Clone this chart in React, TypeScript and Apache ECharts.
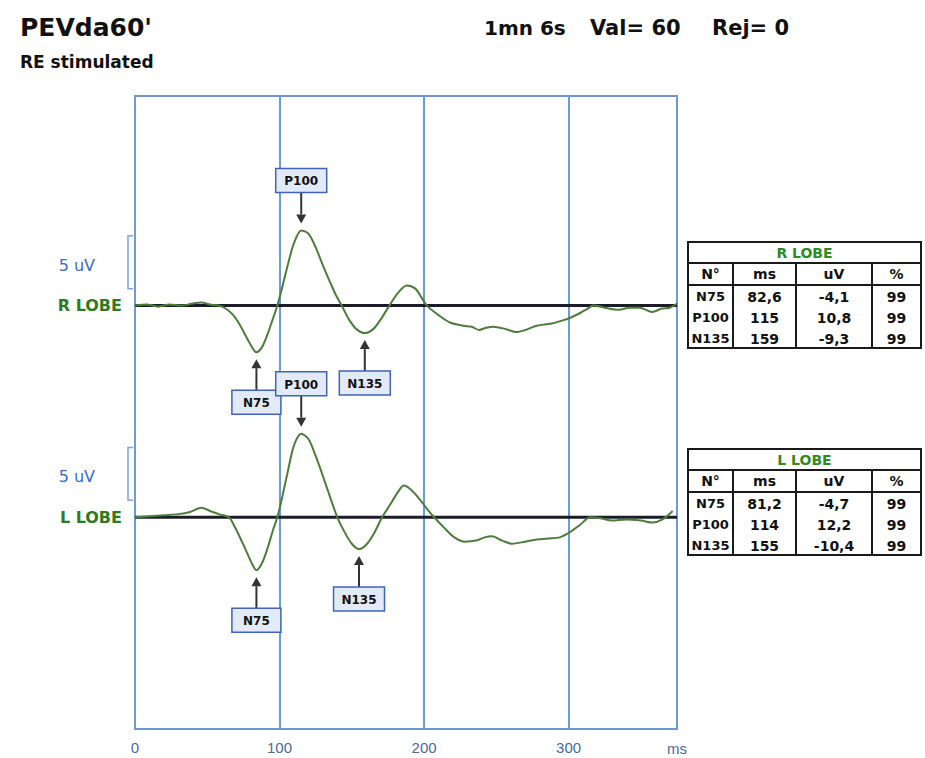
import React, { useEffect, useRef } from 'react';
import * as echarts from 'echarts';

// ---- data ----
const xTicks = [0, 100, 200, 300];
const xMax = 375;
const traceNames = ['R LOBE', 'L LOBE'];
const traceOffsets = [0, -20]; // µV offset of each trace baseline on the shared axis
const scaleBarUv = 5;

// [ms, µV]
const rLobeTrace: number[][] = [
  [0, 0], [8, 0.1], [16, -0.1], [24, 0.1], [32, 0.0], [40, 0.2], [46, 0.3], [52, 0.1], [58, 0.0],
  [63, -0.3], [68, -0.9], [72, -1.7], [76, -2.7], [80, -3.7], [84, -4.4], [88, -3.9], [92, -2.6],
  [95.5, -1.2], [98.5, 0], [102, 1.8], [106, 4.0], [110, 5.9], [115, 7.1], [120, 6.8], [125, 5.5],
  [130, 3.8], [135, 2.2], [139, 1.0], [143, 0], [148, -1.3], [153, -2.2], [159, -2.6], [165, -2.2],
  [170, -1.3], [176, 0], [182, 1.2], [188, 1.9], [194, 1.6], [198, 0.8], [202, 0], [210, -0.9],
  [218, -1.6], [227, -1.9], [233, -2.0], [238, -2.3], [243, -2.1], [248, -2.0], [256, -2.2],
  [264, -2.5], [270, -2.3], [278, -1.9], [288, -1.7], [296, -1.4], [302, -1.1], [308, -0.7],
  [313, -0.3], [317, 0], [325, -0.2], [335, -0.4], [342, -0.2], [349, -0.2], [358, -0.6],
  [364, -0.3], [370, -0.2], [375, 0.2],
];

const lLobeTrace: number[][] = [
  [0, 0], [10, 0.1], [20, 0.2], [30, 0.3], [38, 0.5], [46, 0.9], [52, 0.6], [58, 0.3], [65, 0],
  [69, -0.9], [73, -2.0], [77, -3.2], [81, -4.4], [84, -5.0], [88, -4.3], [92, -2.8], [95.5, -1.2],
  [98.5, 0], [102, 2.0], [106, 4.5], [110, 6.8], [115, 7.9], [120, 7.4], [125, 5.8], [130, 3.9],
  [135, 1.9], [140, 0], [145, -1.4], [150, -2.5], [155, -3.0], [160, -2.6], [165, -1.6], [171, 0],
  [177, 1.3], [182, 2.4], [186, 3.0], [191, 2.6], [197, 1.7], [202, 0.8], [207, 0], [214, -1.0],
  [221, -1.9], [228, -2.3], [236, -2.2], [242, -1.9], [247, -1.8], [254, -2.2], [261, -2.5],
  [270, -2.3], [278, -2.1], [286, -2.0], [294, -1.9], [301, -1.4], [308, -0.7], [315, 0],
  [322, -0.1], [330, -0.3], [340, -0.2], [350, -0.3], [358, -0.5], [365, -0.2], [372, 0.6],
];

const peakNames = ['N75', 'P100', 'N135'];
const peakDirections = [-1, 1, -1];
const rPeakMs = [84, 115, 159];
const lPeakMs = [84, 115, 155];

const tableHeader = ['N°', 'ms', 'uV', '%'];
const rTableRows = [
  ['N75', '82,6', '-4,1', '99'],
  ['P100', '115', '10,8', '99'],
  ['N135', '159', '-9,3', '99'],
];
const lTableRows = [
  ['N75', '81,2', '-4,7', '99'],
  ['P100', '114', '12,2', '99'],
  ['N135', '155', '-10,4', '99'],
];

const headerTitle = "PEVda60'";
const headerSub = 'RE stimulated';
const headerInfo = ['1mn 6s', 'Val= 60', 'Rej= 0'];
const xUnit = 'ms';

// ---- helpers ----
const valueAt = (trace: number[][], ms: number) => {
  for (let i = 0; i < trace.length - 1; i++) {
    const [x0, y0] = trace[i];
    const [x1, y1] = trace[i + 1];
    if (ms >= x0 && ms <= x1) return y0 + ((ms - x0) / (x1 - x0)) * (y1 - y0);
  }
  return 0;
};

const FONT = '"Liberation Sans", Arial, sans-serif';
const WIDE = '"DejaVu Sans", sans-serif';
const GREEN = '#4d7d3c';
const BLUE_LINE = '#6e9bd4';
const AXIS_TXT = '#4a6a9e';

function buildTable(title: string, rows: string[][], top: number) {
  const cols = [688, 733, 796, 872, 921];
  const rowY = [top, top + 21, top + 43, top + 64, top + 85, top + 106];
  const els: any[] = [];
  const stroke = '#1a1a1a';
  els.push({ type: 'rect', shape: { x: cols[0], y: rowY[0], width: cols[4] - cols[0], height: rowY[5] - rowY[0] }, style: { fill: '#fff', stroke, lineWidth: 2 }, z: 10 });
  els.push({ type: 'line', shape: { x1: cols[0], y1: rowY[1], x2: cols[4], y2: rowY[1] }, style: { stroke, lineWidth: 2 }, z: 11 });
  els.push({ type: 'line', shape: { x1: cols[0], y1: rowY[2], x2: cols[4], y2: rowY[2] }, style: { stroke, lineWidth: 2 }, z: 11 });
  for (let c = 1; c < 4; c++) {
    els.push({ type: 'line', shape: { x1: cols[c], y1: rowY[1], x2: cols[c], y2: rowY[5] }, style: { stroke, lineWidth: 2 }, z: 11 });
  }
  const txt = (text: string, x: number, y: number, fill: string, size: number) => ({
    type: 'text', x, y, z: 12,
    style: { text, fill, font: `bold ${size}px ${WIDE}`, align: 'center', verticalAlign: 'middle', textAlign: 'center', textVerticalAlign: 'middle' },
  });
  els.push(txt(title, (cols[0] + cols[4]) / 2, (rowY[0] + rowY[1]) / 2, '#2f8a1f', 14));
  tableHeader.forEach((h, c) => els.push(txt(h, (cols[c] + cols[c + 1]) / 2, (rowY[1] + rowY[2]) / 2, '#111', 14)));
  rows.forEach((row, r) => {
    row.forEach((cell, c) => els.push(txt(cell, (cols[c] + cols[c + 1]) / 2, (rowY[r + 2] + rowY[r + 3]) / 2 + 1, '#111', c === 0 ? 13 : 14)));
  });
  return els;
}

export default function App() {
  const ref = useRef<HTMLDivElement>(null);

  useEffect(() => {
    if (!ref.current) return;
    const chart = echarts.init(ref.current, null, { renderer: 'svg' });

    const traces = [rLobeTrace, lLobeTrace];
    const peakMs = [rPeakMs, lPeakMs];

    const annData: number[][] = [];
    traces.forEach((tr, t) => {
      peakMs[t].forEach((ms, i) => {
        annData.push([ms, valueAt(tr, ms) + traceOffsets[t], peakDirections[i], i]);
      });
    });

    const scaleData = traceOffsets.map((off, t) => [0, off, t]);

    const lineSeries = traces.map((tr, t) => ({
      type: 'line',
      name: traceNames[t],
      data: tr.map(([x, v]) => [x, v + traceOffsets[t]]),
      showSymbol: false,
      smooth: 0.3,
      lineStyle: { color: GREEN, width: 2 },
      z: 3,
    }));

    const baseSeries = traceOffsets.map((off) => ({
      type: 'line',
      data: [[0, off], [xMax, off]],
      showSymbol: false,
      lineStyle: { color: '#1c1c28', width: 3 },
      z: 2,
      silent: true,
    }));

    const headerGraphic: any[] = [
      { type: 'text', x: 20, y: 27, style: { text: headerTitle, fill: '#111', font: `bold 25px ${WIDE}`, verticalAlign: 'middle', textVerticalAlign: 'middle' } },
      { type: 'text', x: 20, y: 62, style: { text: headerSub, fill: '#111', font: `bold 17px ${WIDE}`, verticalAlign: 'middle', textVerticalAlign: 'middle' } },
      ...headerInfo.map((t, i) => ({
        type: 'text', x: [484, 590, 712][i], y: 28,
        style: { text: t, fill: '#111', font: `bold ${i === 0 ? 20 : 21}px ${WIDE}`, verticalAlign: 'middle', textVerticalAlign: 'middle' },
      })),
      { type: 'text', x: 667, y: 748, style: { text: xUnit, fill: AXIS_TXT, font: `15px ${FONT}`, verticalAlign: 'middle', textVerticalAlign: 'middle' } },
      ...buildTable(traceNames[0], rTableRows, 242),
      ...buildTable(traceNames[1], lTableRows, 449),
    ];

    chart.setOption({
      animation: false,
      backgroundColor: '#ffffff',
      grid: { left: 135, top: 96, width: 542, height: 633, show: true, borderColor: '#6f95cc', borderWidth: 2, backgroundColor: 'transparent' },
      xAxis: {
        type: 'value', min: xTicks[0], max: xMax, interval: xTicks[1] - xTicks[0],
        axisLine: { show: true, lineStyle: { color: '#6f95cc', width: 2 } },
        axisTick: { show: false },
        axisLabel: { color: AXIS_TXT, fontSize: 15, fontFamily: FONT, margin: 11, showMaxLabel: false },
        splitLine: { show: true, lineStyle: { color: BLUE_LINE, width: 2 } },
      },
      yAxis: {
        type: 'value', min: -40, max: 19.8,
        axisLine: { show: false }, axisTick: { show: false }, axisLabel: { show: false }, splitLine: { show: false },
      },
      series: [
        ...baseSeries,
        ...lineSeries,
        {
          type: 'custom',
          coordinateSystem: 'cartesian2d',
          data: annData,
          clip: false,
          z: 6,
          silent: true,
          renderItem: (_p: any, api: any) => {
            const pt = api.coord([api.value(0), api.value(1)]);
            const dir = api.value(2);
            const name = peakNames[api.value(3)];
            const w = name.length > 3 ? 51 : 49;
            const h = 24;
            const cy = pt[1] - dir * 50;
            const tipY = pt[1] - dir * 7;
            const edgeY = cy + dir * (h / 2);
            const headBase = tipY - dir * 9;
            return {
              type: 'group',
              children: [
                { type: 'line', shape: { x1: pt[0], y1: edgeY, x2: pt[0], y2: headBase }, style: { stroke: '#333', lineWidth: 2 } },
                { type: 'polygon', shape: { points: [[pt[0] - 5, headBase], [pt[0] + 5, headBase], [pt[0], tipY]] }, style: { fill: '#333' } },
                { type: 'rect', shape: { x: pt[0] - w / 2, y: cy - h / 2, width: w, height: h }, style: { fill: '#e2eaf8', stroke: '#3f63b8', lineWidth: 1.5 } },
                { type: 'text', style: { text: name, x: pt[0], y: cy + 1, align: 'center', verticalAlign: 'middle', font: `bold 12px ${WIDE}`, fill: '#111' } },
              ],
            };
          },
        },
        {
          type: 'custom',
          coordinateSystem: 'cartesian2d',
          data: scaleData,
          clip: false,
          z: 6,
          silent: true,
          renderItem: (_p: any, api: any) => {
            const off = api.value(1);
            const t = api.value(2);
            const base = api.coord([api.value(0), off]);
            const lo = api.coord([api.value(0), off + 1.6]);
            const hi = api.coord([api.value(0), off + 1.6 + scaleBarUv]);
            const x = base[0];
            return {
              type: 'group',
              children: [
                { type: 'polyline', shape: { points: [[x - 2, hi[1]], [x - 7, hi[1]], [x - 7, lo[1]], [x - 2, lo[1]]] }, style: { stroke: '#7ea3d8', lineWidth: 1.5, fill: null } },
                { type: 'text', style: { text: `${scaleBarUv} uV`, x: x - 40, y: (hi[1] + lo[1]) / 2 + 3, align: 'right', verticalAlign: 'middle', font: `16px ${WIDE}`, fill: '#3a6cc4' } },
                { type: 'text', style: { text: traceNames[t], x: x - 13, y: base[1], align: 'right', verticalAlign: 'middle', font: `bold 16px ${WIDE}`, fill: '#2f7a1f' } },
              ],
            };
          },
        },
      ],
      graphic: headerGraphic,
    });

    return () => chart.dispose();
  }, []);

  return (
    <div
      ref={ref}
      style={{ position: 'fixed', left: 0, top: 0, width: 925, height: 758, background: '#fff' }}
    />
  );
}
